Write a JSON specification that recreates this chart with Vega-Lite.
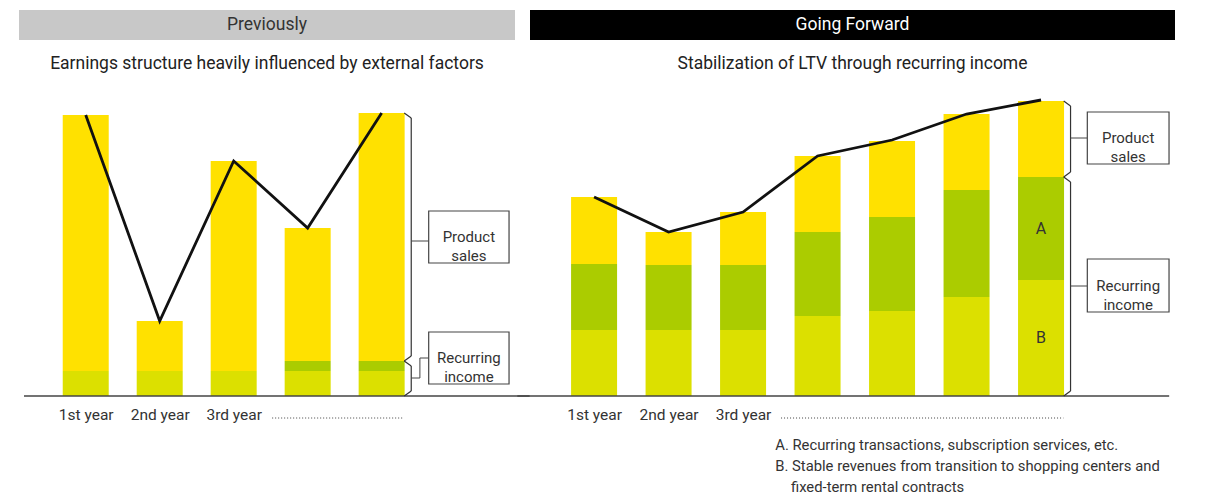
{
  "$schema": "https://vega.github.io/schema/vega-lite/v6.json",
  "padding": {"left": 19, "top": 10, "right": 0, "bottom": 0},
  "autosize": {"type": "pad"},
  "background": "white",
  "config": {"view": {"stroke": null}, "font": "Roboto"},
  "bounds": "flush",
  "columns": 2,
  "spacing": {"row": 12, "column": 15},
  "concat": [
    {
      "width": 496, "height": 30,
      "view": {"fill": "#c8c8c8", "stroke": null},
      "data": {"values": [{"label": "Previously"}]},
      "mark": {"type": "text", "fontSize": 17.5, "color": "#333333", "font": "Roboto"},
      "encoding": {"text": {"field": "label"}}
    },
    {
      "width": 645, "height": 30,
      "view": {"fill": "#000000", "stroke": null},
      "data": {"values": [{"label": "Going Forward"}]},
      "mark": {"type": "text", "fontSize": 17.5, "color": "#ffffff", "font": "Roboto"},
      "encoding": {"text": {"field": "label"}}
    },
    {
      "width": 496, "height": 26,
      "data": {"values": [{"label": "Earnings structure heavily influenced by external factors"}]},
      "mark": {"type": "text", "fontSize": 17.5, "color": "#222222", "font": "Roboto", "dy": -1},
      "encoding": {"text": {"field": "label"}}
    },
    {
      "width": 645, "height": 26,
      "data": {"values": [{"label": "Stabilization of LTV through recurring income"}]},
      "mark": {"type": "text", "fontSize": 17.5, "color": "#222222", "font": "Roboto", "dy": -1},
      "encoding": {"text": {"field": "label"}}
    },
    {
      "width": 496, "height": 306,
      "data": {"values": [{}]},
      "layer": [
        {
          "data": {"values": [
            {"year": 1, "segment": "Recurring (B)", "value": 25},
            {"year": 1, "segment": "Product sales", "value": 256},
            {"year": 2, "segment": "Recurring (B)", "value": 25},
            {"year": 2, "segment": "Product sales", "value": 50},
            {"year": 3, "segment": "Recurring (B)", "value": 25},
            {"year": 3, "segment": "Product sales", "value": 210},
            {"year": 4, "segment": "Recurring (B)", "value": 25},
            {"year": 4, "segment": "Recurring (A)", "value": 10},
            {"year": 4, "segment": "Product sales", "value": 133},
            {"year": 5, "segment": "Recurring (B)", "value": 25},
            {"year": 5, "segment": "Recurring (A)", "value": 10},
            {"year": 5, "segment": "Product sales", "value": 248}
          ]},
          "mark": {"type": "bar", "size": 46},
          "encoding": {
            "x": {"field": "year", "type": "quantitative",
              "scale": {"domain": [0.1656, 6.735], "nice": false, "zero": false},
              "axis": {"values": [1, 2, 3], "labelExpr": "datum.value == 1 ? '1st year' : datum.value == 2 ? '2nd year' : '3rd year'", "ticks": false, "grid": false, "domain": false, "labelFontSize": 15.5, "labelColor": "#333333", "labelFont": "Roboto", "labelPadding": 11, "title": null, "labelFlush": false}},
            "y": {"field": "value", "type": "quantitative", "stack": "zero", "scale": {"domain": [0, 306], "nice": false}, "axis": null},
            "color": {"field": "segment", "type": "nominal", "scale": {"domain": ["Product sales", "Recurring (A)", "Recurring (B)"], "range": ["#ffe100", "#abcc00", "#dce000"]}, "legend": null},
            "order": {"field": "segment", "sort": "descending"}
          }
        },
        {"mark": {"type": "rule", "color": "#444444", "strokeWidth": 1.5}, "encoding": {"x": {"datum": 0.1656}, "x2": {"datum": 7.0}, "y": {"datum": 0}}},
        {
          "data": {"values": [
            {"year": 1, "total": 281}, {"year": 2, "total": 75}, {"year": 3, "total": 235}, {"year": 4, "total": 168}, {"year": 5, "total": 283}
          ]},
          "mark": {"type": "line", "color": "#111111", "strokeWidth": 2.8},
          "encoding": {"x": {"field": "year", "type": "quantitative"}, "y": {"field": "total", "type": "quantitative"}}
        },
        {"mark": {"type": "rule", "color": "#333333", "strokeWidth": 1.2}, "encoding": {"x": {"datum": 5.305}, "x2": {"datum": 5.4}, "y": {"datum": 283}, "y2": {"datum": 278}}},
        {"mark": {"type": "rule", "color": "#333333", "strokeWidth": 1.2}, "encoding": {"x": {"datum": 5.4}, "y": {"datum": 278}, "y2": {"datum": 40}}},
        {"mark": {"type": "rule", "color": "#333333", "strokeWidth": 1.2}, "encoding": {"x": {"datum": 5.4}, "x2": {"datum": 5.305}, "y": {"datum": 40}, "y2": {"datum": 35}}},
        {"mark": {"type": "rule", "color": "#333333", "strokeWidth": 1.2}, "encoding": {"x": {"datum": 5.305}, "x2": {"datum": 5.4}, "y": {"datum": 35}, "y2": {"datum": 30}}},
        {"mark": {"type": "rule", "color": "#333333", "strokeWidth": 1.2}, "encoding": {"x": {"datum": 5.4}, "y": {"datum": 30}, "y2": {"datum": 5}}},
        {"mark": {"type": "rule", "color": "#333333", "strokeWidth": 1.2}, "encoding": {"x": {"datum": 5.4}, "x2": {"datum": 5.305}, "y": {"datum": 5}, "y2": {"datum": 0}}},
        {"mark": {"type": "rule", "color": "#444444", "strokeWidth": 1}, "encoding": {"x": {"datum": 5.4}, "x2": {"datum": 5.636}, "y": {"datum": 155}}},
        {"mark": {"type": "rule", "color": "#444444", "strokeWidth": 1}, "encoding": {"x": {"datum": 5.4}, "x2": {"datum": 5.517}, "y": {"datum": 18}}},
        {"mark": {"type": "rule", "color": "#444444", "strokeWidth": 1}, "encoding": {"x": {"datum": 5.517}, "y": {"datum": 18}, "y2": {"datum": 38}}},
        {"mark": {"type": "rule", "color": "#444444", "strokeWidth": 1}, "encoding": {"x": {"datum": 5.517}, "x2": {"datum": 5.636}, "y": {"datum": 38}}},
        {"mark": {"type": "rect", "fill": "#ffffff", "stroke": "#444444", "strokeWidth": 1.2}, "encoding": {"x": {"datum": 5.636}, "x2": {"datum": 6.722}, "y": {"datum": 133}, "y2": {"datum": 185}}},
        {"mark": {"type": "rect", "fill": "#ffffff", "stroke": "#444444", "strokeWidth": 1.2}, "encoding": {"x": {"datum": 5.636}, "x2": {"datum": 6.722}, "y": {"datum": 12}, "y2": {"datum": 64}}},
        {"mark": {"type": "text", "fontSize": 15, "color": "#333333", "lineHeight": 19, "text": ["Product", "sales"]}, "encoding": {"x": {"datum": 6.179}, "y": {"datum": 159}}},
        {"mark": {"type": "text", "fontSize": 15, "color": "#333333", "lineHeight": 19, "text": ["Recurring", "income"]}, "encoding": {"x": {"datum": 6.179}, "y": {"datum": 38}}},
        {"mark": {"type": "rule", "color": "#444444", "strokeWidth": 1, "strokeDash": [1, 2]}, "encoding": {"x": {"datum": 3.52}, "x2": {"datum": 5.29}, "y": {"datum": -22}}}
      ]
    },
    {
      "width": 645, "height": 306,
      "data": {"values": [{}]},
      "layer": [
        {
          "data": {"values": [
            {"year": 1, "segment": "Recurring (B)", "value": 66},
            {"year": 1, "segment": "Recurring (A)", "value": 66},
            {"year": 1, "segment": "Product sales", "value": 67},
            {"year": 2, "segment": "Recurring (B)", "value": 66},
            {"year": 2, "segment": "Recurring (A)", "value": 65},
            {"year": 2, "segment": "Product sales", "value": 33},
            {"year": 3, "segment": "Recurring (B)", "value": 66},
            {"year": 3, "segment": "Recurring (A)", "value": 65},
            {"year": 3, "segment": "Product sales", "value": 53},
            {"year": 4, "segment": "Recurring (B)", "value": 80},
            {"year": 4, "segment": "Recurring (A)", "value": 84},
            {"year": 4, "segment": "Product sales", "value": 76},
            {"year": 5, "segment": "Recurring (B)", "value": 85},
            {"year": 5, "segment": "Recurring (A)", "value": 94},
            {"year": 5, "segment": "Product sales", "value": 76},
            {"year": 6, "segment": "Recurring (B)", "value": 99},
            {"year": 6, "segment": "Recurring (A)", "value": 107},
            {"year": 6, "segment": "Product sales", "value": 76},
            {"year": 7, "segment": "Recurring (B)", "value": 116},
            {"year": 7, "segment": "Recurring (A)", "value": 103},
            {"year": 7, "segment": "Product sales", "value": 76}
          ]},
          "mark": {"type": "bar", "size": 46},
          "encoding": {
            "x": {"field": "year", "type": "quantitative",
              "scale": {"domain": [0.207, 8.731], "nice": false, "zero": false},
              "axis": {"values": [1, 2, 3], "labelExpr": "datum.value == 1 ? '1st year' : datum.value == 2 ? '2nd year' : '3rd year'", "ticks": false, "grid": false, "domain": false, "labelFontSize": 15.5, "labelColor": "#333333", "labelFont": "Roboto", "labelPadding": 11, "title": null, "labelFlush": false}},
            "y": {"field": "value", "type": "quantitative", "stack": "zero", "scale": {"domain": [0, 306], "nice": false}, "axis": null},
            "color": {"field": "segment", "type": "nominal", "scale": {"domain": ["Product sales", "Recurring (A)", "Recurring (B)"], "range": ["#ffe100", "#abcc00", "#dce000"]}, "legend": null},
            "order": {"field": "segment", "sort": "descending"}
          }
        },
        {"mark": {"type": "rule", "color": "#444444", "strokeWidth": 1.5}, "encoding": {"x": {"datum": -0.03}, "x2": {"datum": 8.72}, "y": {"datum": 0}}},
        {
          "data": {"values": [
            {"year": 1, "total": 199}, {"year": 2, "total": 164}, {"year": 3, "total": 184}, {"year": 4, "total": 240}, {"year": 5, "total": 256}, {"year": 6, "total": 282}, {"year": 7, "total": 296}
          ]},
          "mark": {"type": "line", "color": "#111111", "strokeWidth": 2.8},
          "encoding": {"x": {"field": "year", "type": "quantitative"}, "y": {"field": "total", "type": "quantitative"}}
        },
        {"mark": {"type": "text", "fontSize": 16, "color": "#333333"}, "encoding": {"x": {"datum": 7}, "y": {"datum": 167}, "text": {"value": "A"}}},
        {"mark": {"type": "text", "fontSize": 16, "color": "#333333"}, "encoding": {"x": {"datum": 7}, "y": {"datum": 58}, "text": {"value": "B"}}},
        {"mark": {"type": "rule", "color": "#333333", "strokeWidth": 1.2}, "encoding": {"x": {"datum": 7.304}, "x2": {"datum": 7.396}, "y": {"datum": 295}, "y2": {"datum": 290}}},
        {"mark": {"type": "rule", "color": "#333333", "strokeWidth": 1.2}, "encoding": {"x": {"datum": 7.396}, "y": {"datum": 290}, "y2": {"datum": 224}}},
        {"mark": {"type": "rule", "color": "#333333", "strokeWidth": 1.2}, "encoding": {"x": {"datum": 7.396}, "x2": {"datum": 7.304}, "y": {"datum": 224}, "y2": {"datum": 219}}},
        {"mark": {"type": "rule", "color": "#333333", "strokeWidth": 1.2}, "encoding": {"x": {"datum": 7.304}, "x2": {"datum": 7.396}, "y": {"datum": 219}, "y2": {"datum": 214}}},
        {"mark": {"type": "rule", "color": "#333333", "strokeWidth": 1.2}, "encoding": {"x": {"datum": 7.396}, "y": {"datum": 214}, "y2": {"datum": 5}}},
        {"mark": {"type": "rule", "color": "#333333", "strokeWidth": 1.2}, "encoding": {"x": {"datum": 7.396}, "x2": {"datum": 7.304}, "y": {"datum": 5}, "y2": {"datum": 0}}},
        {"mark": {"type": "rule", "color": "#444444", "strokeWidth": 1}, "encoding": {"x": {"datum": 7.396}, "x2": {"datum": 7.621}, "y": {"datum": 258}}},
        {"mark": {"type": "rule", "color": "#444444", "strokeWidth": 1}, "encoding": {"x": {"datum": 7.396}, "x2": {"datum": 7.621}, "y": {"datum": 110}}},
        {"mark": {"type": "rect", "fill": "#ffffff", "stroke": "#444444", "strokeWidth": 1.2}, "encoding": {"x": {"datum": 7.621}, "x2": {"datum": 8.718}, "y": {"datum": 232}, "y2": {"datum": 284}}},
        {"mark": {"type": "rect", "fill": "#ffffff", "stroke": "#444444", "strokeWidth": 1.2}, "encoding": {"x": {"datum": 7.621}, "x2": {"datum": 8.718}, "y": {"datum": 84}, "y2": {"datum": 137}}},
        {"mark": {"type": "text", "fontSize": 15, "color": "#333333", "lineHeight": 19, "text": ["Product", "sales"]}, "encoding": {"x": {"datum": 8.169}, "y": {"datum": 258}}},
        {"mark": {"type": "text", "fontSize": 15, "color": "#333333", "lineHeight": 19, "text": ["Recurring", "income"]}, "encoding": {"x": {"datum": 8.169}, "y": {"datum": 110.5}}},
        {"mark": {"type": "rule", "color": "#444444", "strokeWidth": 1, "strokeDash": [1, 2]}, "encoding": {"x": {"datum": 3.51}, "x2": {"datum": 7.3}, "y": {"datum": -22}}},
        {"mark": {"type": "text", "fontSize": 14.8, "color": "#333333", "align": "left"}, "encoding": {"x": {"datum": 3.432}, "y": {"datum": -50}, "text": {"value": "A. Recurring transactions, subscription services, etc."}}},
        {"mark": {"type": "text", "fontSize": 14.8, "color": "#333333", "align": "left"}, "encoding": {"x": {"datum": 3.432}, "y": {"datum": -71}, "text": {"value": "B. Stable revenues from transition to shopping centers and"}}},
        {"mark": {"type": "text", "fontSize": 14.8, "color": "#333333", "align": "left"}, "encoding": {"x": {"datum": 3.643}, "y": {"datum": -92}, "text": {"value": "fixed-term rental contracts"}}}
      ]
    }
  ]
}
